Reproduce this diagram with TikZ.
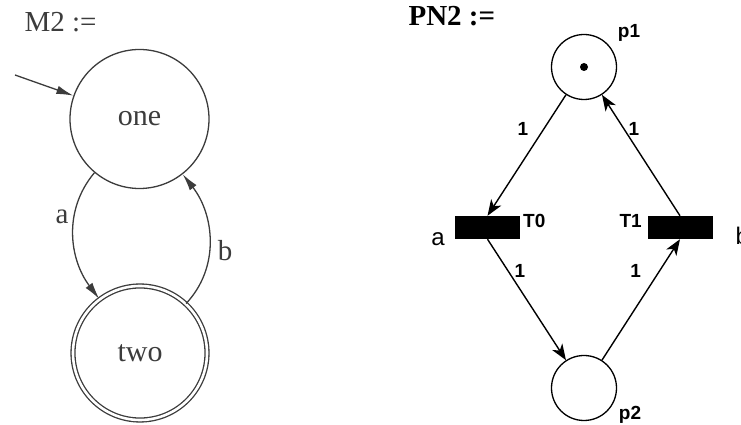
\documentclass[tikz,border=0pt]{standalone}
\usepackage{fontspec}
\setmainfont{Liberation Serif}
\setsansfont{Liberation Sans}
\usetikzlibrary{arrows.meta, positioning}

\definecolor{autogray}{RGB}{60, 60, 60}

\tikzset{
  % automaton
  state/.style={circle, draw=autogray, line width=1.3pt, minimum size=139pt, inner sep=0pt,
    text=autogray, font=\fontsize{30}{30}\selectfont},
  accepting/.style={state, double, double distance=2.6pt, minimum size=134pt},
  autoedge/.style={draw=autogray, line width=1.3pt, -{Latex[length=17pt, width=8.5pt]}},
  autolabel/.style={text=autogray, font=\fontsize{29}{29}\selectfont},
  % petri net
  place/.style={circle, draw, line width=1.3pt, minimum size=65pt, inner sep=0pt},
  trans/.style={rectangle, fill=black, minimum width=65pt, minimum height=23pt, inner sep=0pt},
  pnarc/.style={line width=1.4pt, -{Stealth[length=16pt, width=12pt, inset=4.5pt]}},
  pnlabel/.style={font=\sffamily\bfseries\fontsize{19}{19}\selectfont, inner sep=1pt},
  actlabel/.style={font=\sffamily\fontsize{24}{24}\selectfont}
}

\begin{document}
\begin{tikzpicture}[x=1pt, y=1pt]
  \useasboundingbox (0,0) rectangle (741,425);

  % Automaton M2
  \node[autolabel, anchor=base west] (m2) at (21,393) {M2 :=};
  \node[state] (one) at (139.5,306) {one};
  \node[accepting] (two) at (140,72) {two};
  \coordinate (init) at (15,350);

  \draw[autoedge] (init) -- (one);
  \draw[autoedge] (one) to[out=230, in=127] node[autolabel, pos=0.36, left=2pt] {a} (two);
  \draw[autoedge] (two) to[out=47, in=-52] node[autolabel, pos=0.42, right=5pt] {b} (one);

  % Petri net PN2
  \node[font=\bfseries\fontsize{29}{29}\selectfont, anchor=base west] (pn2) at (405,399) {PN2 :=};

  \node[place] (p1) at (584,358) {};
  \node[circle, fill, inner sep=0pt, minimum size=8pt] (tok) at (p1) {};
  \node[place] (p2) at (584,37) {};
  \node[pnlabel] (p1lbl) at (629,392) {p1};
  \node[pnlabel] (p2lbl) at (630,10) {p2};

  \node[trans] (t0) at (487.5,197.5) {};
  \node[trans] (t1) at (680,197.5) {};
  \node[pnlabel, anchor=west] (t0lbl) at (522,204.5) {T0};
  \node[pnlabel, anchor=east] (t1lbl) at (643,204.5) {T1};
  \node[actlabel] (t0act) at (438,186) {a};
  \node[actlabel, anchor=west] (t1act) at (732,189) {b};

  \draw[pnarc] (p1) -- node[pnlabel, pos=0.28, left=14pt] {1} (t0.north);
  \draw[pnarc] (t1.north) -- node[pnlabel, pos=0.72, right=3pt] {1} (p1);
  \draw[pnarc] (t0.south) -- node[pnlabel, pos=0.26, right=5pt] {1} (p2);
  \draw[pnarc] (p2) -- node[pnlabel, pos=0.74, left=17pt] {1} (t1.south);
\end{tikzpicture}
\end{document}
